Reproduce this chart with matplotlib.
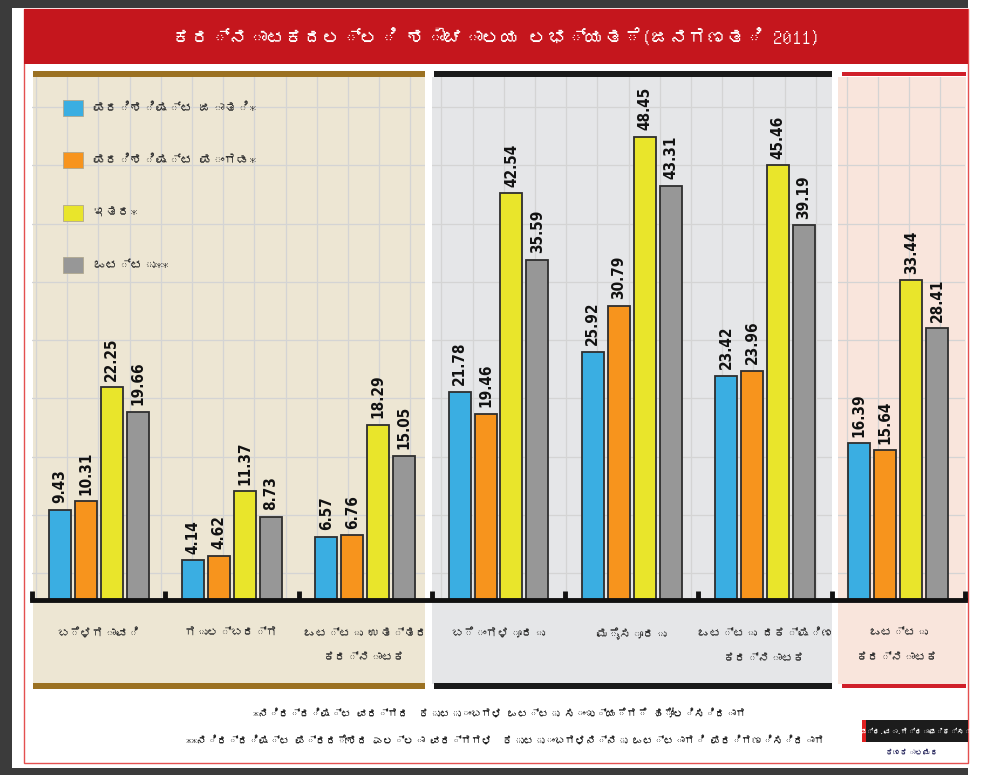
import matplotlib
matplotlib.use("Agg")
import matplotlib.pyplot as plt
import numpy as np
from matplotlib import font_manager as fm
from matplotlib.ft2font import FT2Font
from matplotlib.patches import Rectangle, Patch

# Data (ಜನಗಣತಿ 2011, percent of households with toilets)
categories = ["ಬೆಳಗಾವಿ", "ಗುಲ್ಬರ್ಗ", "ಒಟ್ಟು ಉತ್ತರ\nಕರ್ನಾಟಕ", "ಬೆಂಗಳೂರು",
              "ಮೈಸೂರು", "ಒಟ್ಟು ದಕ್ಷಿಣ\nಕರ್ನಾಟಕ", "ಒಟ್ಟು\nಕರ್ನಾಟಕ"]
series_names = ["ಪರಿಶಿಷ್ಟ ಜಾತಿ*", "ಪರಿಶಿಷ್ಟ ಪಂಗಡ*", "ಇತರ*", "ಒಟ್ಟು**"]
sc = [9.43, 4.14, 6.57, 21.78, 25.92, 23.42, 16.39]
st = [10.31, 4.62, 6.76, 19.46, 30.79, 23.96, 15.64]
others = [22.25, 11.37, 18.29, 42.54, 48.45, 45.46, 33.44]
total = [19.66, 8.73, 15.05, 35.59, 43.31, 39.19, 28.41]
colors = ["#3aaee2", "#f7941d", "#e9e52b", "#979797"]

title = "ಕರ್ನಾಟಕದಲ್ಲಿ ಶೌಚಾಲಯ ಲಭ್ಯತೆ(ಜನಗಣತಿ 2011)"
note1 = "*ನಿರ್ದಿಷ್ಟ ವರ್ಗದ  ಕುಟುಂಬಗಳ ಒಟ್ಟು ಸಂಖ್ಯೆಗೆ ಹೋಲಿಸಿದಾಗ"
note2 = "**ನಿರ್ದಿಷ್ಟ ಪ್ರದೇಶದ ಎಲ್ಲಾ ವರ್ಗಗಳ  ಕುಟುಂಬಗಳನ್ನು ಒಟ್ಟಾಗಿ ಪರಿಗಣಿಸಿದಾಗ"
credit = "ಪ್ರ.ವಾ.ಗ್ರಾಫಿಕ್ಸ್"
artist = "ಕಣಕಾಲಮಠ"

# find a font with Kannada glyphs, if any
kn_family = None
for path in fm.findSystemFonts():
    try:
        if 0x0C95 in FT2Font(path).get_charmap():
            fm.fontManager.addfont(path)
            kn_family = fm.FontProperties(fname=path).get_name()
            break
    except Exception:
        pass
fams = ([kn_family] if kn_family else []) + ["DejaVu Sans"]
plt.rcParams["font.family"] = fams

W, H = 992, 775
fig = plt.figure(figsize=(W / 100, H / 100), dpi=100)


def fx(x):
    return x / W


def fy(y):
    return 1 - y / H


def box(x0, y0, x1, y1, z=-5, **kw):
    r = Rectangle((fx(x0), fy(y1)), fx(x1) - fx(x0), fy(y0) - fy(y1),
                  transform=fig.transFigure, zorder=z, **kw)
    fig.patches.append(r)


# frame and panels
box(0, 0, 968, 775, color="#3b3b3b", lw=0)
box(12, 8, 968, 768, color="white", lw=0)
box(24, 9, 968, 763, fill=False, edgecolor="#e45050", lw=1)
box(24, 9, 968, 64, color="#c5161d", lw=0)
box(33, 77, 425, 684, color="#ede6d3", lw=0)
box(432, 77, 832, 684, color="#e5e6e8", lw=0)
box(838, 77, 966, 684, color="#f9e5dc", lw=0)
box(33, 71, 425, 77, color="#9b7122", lw=0)
box(434, 71, 832, 77, color="#1a1a1a", lw=0)
box(842, 72, 966, 76, color="#d0202a", lw=0)
box(33, 683, 425, 689, color="#9b7122", lw=0)
box(434, 683, 832, 689, color="#1a1a1a", lw=0)
box(842, 684, 966, 688, color="#d0202a", lw=0)
box(862, 720, 968, 742, color="#1c1c1c", lw=0)
box(862, 720, 866, 742, color="#e02020", lw=0)
# white gaps between panels, drawn over the grid
box(425, 77, 432, 589, z=1, color="white", lw=0)
box(832, 77, 838, 589, z=1, color="white", lw=0)

ax = fig.add_axes([fx(32), fy(600), fx(965) - fx(32), fy(77) - fy(600)])
ax.set_facecolor("none")
ax.set_xlim(-0.5, 6.5)
ax.set_ylim(0, 54.7)

x = np.arange(len(categories))
pitch = 0.195
width = 0.165
for k, (vals, c) in enumerate(zip([sc, st, others, total], colors)):
    xs = x + (k - 1.5) * pitch
    ax.bar(xs, vals, width, color=c, edgecolor="#2e2e2e", lw=1.3, zorder=3)
    for xi, v in zip(xs, vals):
        ax.text(xi, v + 0.7, f"{v:.2f}", rotation=90, ha="center", va="bottom",
                fontsize=11, fontweight="bold", fontstretch="condensed",
                family="DejaVu Sans", color="#111111", zorder=4)

# grid
ax.set_xticks(np.arange(-0.47, 6.5, 0.234), minor=True)
ax.set_yticks(np.arange(2.82, 54.7, 6.09))
ax.grid(True, which="minor", axis="x", color="#d4d4d4", lw=0.9, zorder=0)
ax.grid(True, which="major", axis="y", color="#d4d4d4", lw=0.9, zorder=0)
ax.tick_params(axis="y", left=False, labelleft=False)
ax.tick_params(axis="x", which="both", bottom=False, length=0)

ax.set_xticks(x)
ax.set_xticklabels(categories, fontsize=8.5, color="#333333", linespacing=3.0)
ax.tick_params(axis="x", which="major", pad=20)
for s in ax.spines.values():
    s.set_visible(False)

# baseline with notches between groups
ax.axhline(0, color="#111111", lw=3.5, zorder=5, clip_on=False)
ax.vlines(np.arange(-0.5, 7, 1), 0, 0.9, color="#111111", lw=3.5, zorder=5,
          clip_on=False)

handles = [Patch(facecolor=c, edgecolor="#b0a890", lw=0.6) for c in colors]
ax.legend(handles, series_names, loc="upper left",
          bbox_to_anchor=(fx(63), fy(100)), bbox_transform=fig.transFigure,
          frameon=False, fontsize=9, handlelength=1.6, handleheight=1.6,
          handletextpad=0.8, labelspacing=2.9, borderpad=0, borderaxespad=0,
          labelcolor="#333333")

fig.text(fx(496), fy(38), title, color="white", fontsize=13.5, fontweight="bold",
         ha="center", va="center")
fig.text(fx(500), fy(713), note1, fontsize=7.5, color="#222222", ha="center", va="center")
fig.text(fx(505), fy(740), note2, fontsize=7.5, color="#222222", ha="center", va="center")
fig.text(fx(916), fy(731), credit, fontsize=5, color="white", fontweight="bold",
         ha="center", va="center")
fig.text(fx(912), fy(753), artist, fontsize=5.5, color="#333366", ha="center", va="center")

fig.savefig("out.png", dpi=100)
